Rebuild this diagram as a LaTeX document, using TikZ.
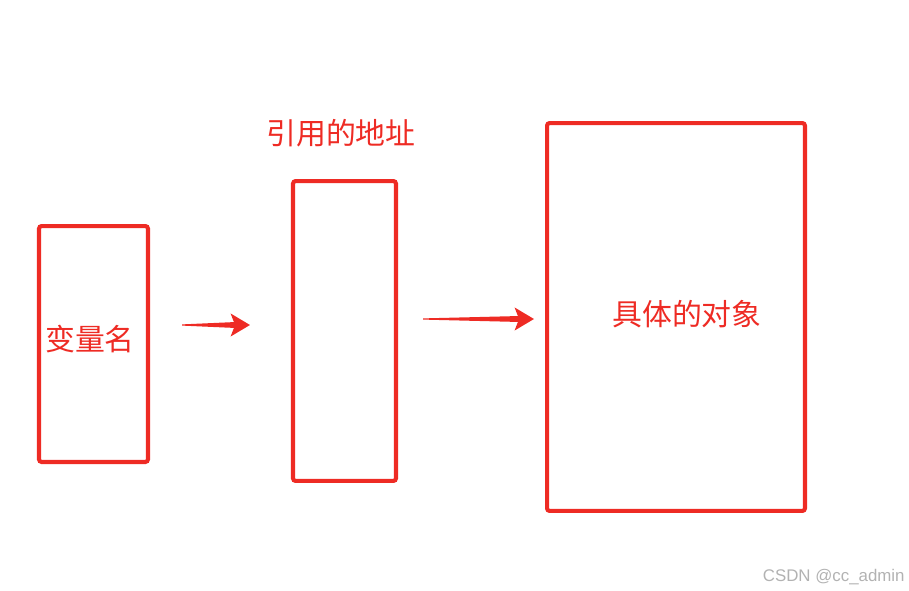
\documentclass[tikz,border=0pt]{standalone}
\usepackage{fontspec}
\setmainfont{Liberation Sans}
\newfontfamily\cjk{Noto Sans CJK SC}
\usetikzlibrary{arrows.meta,calc}
\definecolor{boxred}{HTML}{EE2B24}
\tikzset{
  box/.style={draw=boxred,line width=2.3pt,rounded corners=1.5pt,inner sep=0pt},
  lbl/.style={text=boxred,font=\cjk\fontsize{17}{20}\selectfont,inner sep=0pt},
  flow/.style={draw=boxred,line width=1pt,-{Stealth[length=11pt,width=13pt,inset=2.5pt]}}
}
\begin{document}
\begin{tikzpicture}[x=0.02cm,y=-0.02cm]
              \useasboundingbox (0,0) rectangle (909,591);
              \node[box,minimum width=2.18cm,minimum height=4.72cm](var)at(93.5,344){};
              \node[box,minimum width=2.06cm,minimum height=6.0cm](addr)at(344.5,331){};
              \node[box,minimum width=5.16cm,minimum height=7.76cm](obj)at(676,317){};
              \node[lbl](varname)at(90,339){变量名};
              \node[lbl](addrname)at(341,133){引用的地址};
              \node[lbl](objname)at(687,314){具体的对象};
              \coordinate(a1s)at(182,325);
              \coordinate(a1e)at(250,325);
              \coordinate(a2s)at(423,319);
              \coordinate(a2e)at(534,319);
              % tapered shafts
              \fill[boxred]($(a1s)+(0,-0.6)$)--($(a1e)+(-14,-3)$)--($(a1e)+(-14,3)$)--($(a1s)+(0,0.6)$)--cycle;
              \fill[boxred]($(a2s)+(0,-0.6)$)--($(a2e)+(-14,-3)$)--($(a2e)+(-14,3)$)--($(a2s)+(0,0.6)$)--cycle;
              \draw[flow]($(a1e)+(-19,0)$)--(a1e);
              \draw[flow]($(a2e)+(-19,0)$)--(a2e);
              \node[text=black!30,font=\fontsize{9.6}{11}\selectfont,anchor=east,inner sep=0pt](mark)at(905,577){CSDN @cc\_admin};
            \end{tikzpicture}
\end{document}
